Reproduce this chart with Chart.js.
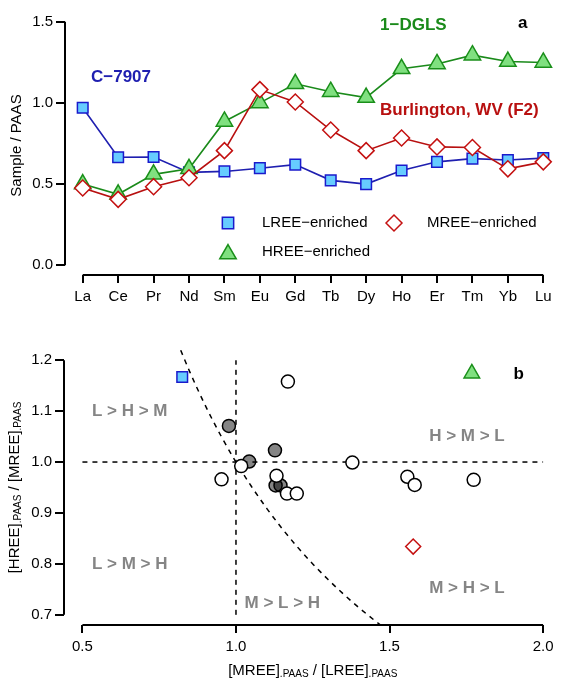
<!DOCTYPE html>
<html>
<head>
<meta charset="utf-8">
<script src="https://cdn.jsdelivr.net/npm/chart.js@4.4.0/dist/chart.umd.min.js"></script>
<style>
  body { margin: 0; background: #fff; }
  #wrap { position: relative; width: 572px; height: 680px; }
  canvas { position: absolute; left: 0; }
</style>
</head>
<body>
<div id="wrap">
  <canvas id="chartA" width="572" height="320" style="top:0"></canvas>
  <canvas id="chartB" width="572" height="350" style="top:330px"></canvas>
</div>
<script>
// panel a: REE patterns normalised to PAAS
const elements = ["La", "Ce", "Pr", "Nd", "Sm", "Eu", "Gd", "Tb", "Dy", "Ho", "Er", "Tm", "Yb", "Lu"];
const lreeEnriched = [0.97, 0.665, 0.667, 0.572, 0.578, 0.598, 0.62, 0.523, 0.5, 0.584, 0.637, 0.657, 0.648, 0.66];
const mreeEnriched = [0.476, 0.406, 0.484, 0.539, 0.706, 1.082, 1.006, 0.833, 0.706, 0.784, 0.729, 0.725, 0.594, 0.637];
const hreeEnriched = [0.5, 0.437, 0.56, 0.594, 0.886, 1.0, 1.118, 1.069, 1.033, 1.21, 1.24, 1.294, 1.255, 1.249];
const yTicksA = [0, 0.5, 1.0, 1.5];

// panel b: MREE/LREE vs HREE/MREE
const openX = [0.953, 1.017, 1.169, 1.132, 1.166, 1.198, 1.379, 1.558, 1.582, 1.774];
const openY = [0.966, 0.992, 1.158, 0.973, 0.938, 0.938, 0.999, 0.971, 0.955, 0.965];
const greyX = [0.977, 1.043, 1.127, 1.129, 1.145];
const greyY = [1.071, 1.001, 1.023, 0.954, 0.954];
const lreeX = [0.825], lreeY = [1.167];
const mreeX = [1.577], mreeY = [0.834];
const hreeX = [1.768], hreeY = [1.174];
const xTicksB = [0.5, 1.0, 1.5, 2.0];
const yTicksB = [0.7, 0.8, 0.9, 1.0, 1.1, 1.2];
// H = L boundary: HREE/MREE = 1 / (MREE/LREE)
const boundaryX = [0.82, 0.85, 0.9, 0.95, 1.0, 1.05, 1.1, 1.15, 1.2, 1.25, 1.3, 1.35, 1.4, 1.45, 1.47];

const font = "'Liberation Sans', Arial, sans-serif";
Chart.defaults.font.family = font;
Chart.defaults.color = '#000';

const blue = '#1f1fb0', green = '#1a8a1a', red = '#b81010', grey = '#858585';

function pts(xs, ys) { return xs.map((x, i) => ({ x: x, y: ys[i] })); }

function drawRich(ctx, parts, cx, cy, rotate) {
  ctx.save();
  ctx.translate(cx, cy);
  if (rotate) ctx.rotate(-Math.PI / 2);
  ctx.textBaseline = 'alphabetic';
  ctx.textAlign = 'left';
  ctx.fillStyle = '#000';
  let total = 0;
  parts.forEach(p => { ctx.font = p[1] + 'px ' + font; p.w = ctx.measureText(p[0]).width; total += p.w; });
  let x = -total / 2;
  parts.forEach(p => { ctx.font = p[1] + 'px ' + font; ctx.fillText(p[0], x, p[2] || 0); x += p.w; });
  ctx.restore();
}

function label(ctx, text, x, y, color, size, bold, align) {
  ctx.save();
  ctx.font = (bold ? 'bold ' : '') + size + 'px ' + font;
  ctx.fillStyle = color;
  ctx.textAlign = align || 'left';
  ctx.textBaseline = 'middle';
  ctx.fillText(text, x, y);
  ctx.restore();
}

function marker(ctx, style, x, y, r, fill, stroke) {
  ctx.save();
  ctx.fillStyle = fill; ctx.strokeStyle = stroke; ctx.lineWidth = 1.5;
  ctx.beginPath();
  if (style === 'rect') {
    const s = r * Math.SQRT1_2;
    ctx.rect(x - s, y - s, 2 * s, 2 * s);
  } else if (style === 'rectRot') {
    ctx.moveTo(x - r, y); ctx.lineTo(x, y - r); ctx.lineTo(x + r, y); ctx.lineTo(x, y + r); ctx.closePath();
  } else {
    const a = Math.PI * 2 / 3;
    ctx.moveTo(x, y - r);
    ctx.lineTo(x + Math.sin(a) * r, y - Math.cos(a) * r);
    ctx.lineTo(x - Math.sin(a) * r, y - Math.cos(a) * r);
    ctx.closePath();
  }
  ctx.fill(); ctx.stroke();
  ctx.restore();
}

// axis lines that only span the first to the last tick, like R
const detachedAxes = {
  id: 'detachedAxes',
  afterDraw(chart) {
    const { ctx, chartArea, scales: { x, y } } = chart;
    ctx.save();
    ctx.strokeStyle = '#000';
    ctx.lineWidth = 2;
    ctx.beginPath();
    ctx.moveTo(x.getPixelForTick(0), chartArea.bottom);
    ctx.lineTo(x.getPixelForTick(x.ticks.length - 1), chartArea.bottom);
    ctx.moveTo(chartArea.left, y.getPixelForTick(0));
    ctx.lineTo(chartArea.left, y.getPixelForTick(y.ticks.length - 1));
    ctx.stroke();
    ctx.restore();
  }
};

function tickGrid(len) {
  return { drawOnChartArea: false, drawTicks: true, tickLength: len, color: '#000', lineWidth: 2, offset: false };
}

const textA = {
  id: 'textA',
  afterDraw(chart) {
    const ctx = chart.ctx;
    const area = chart.chartArea;
    drawRich(ctx, [['Sample / PAAS', 15]], 21, (area.top + area.bottom) / 2 + 2, true);
    label(ctx, 'C\u22127907', 91, 77, blue, 17, true);
    label(ctx, '1\u2212DGLS', 380, 25, green, 17, true);
    label(ctx, 'a', 518, 23, '#000', 17, true);
    label(ctx, 'Burlington, WV (F2)', 380, 110, red, 17, true);
    // legend
    marker(ctx, 'rect', 228, 223, 8, '#66ccff', '#1a1acc');
    label(ctx, 'LREE\u2212enriched', 262, 223, '#000', 15, false);
    marker(ctx, 'rectRot', 394, 223, 8, '#ffffff', '#c41010');
    label(ctx, 'MREE\u2212enriched', 427, 223, '#000', 15, false);
    marker(ctx, 'triangle', 228, 254, 9.5, '#80e080', '#1a8f1a');
    label(ctx, 'HREE\u2212enriched', 262, 252, '#000', 15, false);
  }
};

new Chart(document.getElementById('chartA'), {
  type: 'line',
  data: {
    labels: elements,
    datasets: [
      { label: 'LREE-enriched', data: lreeEnriched, order: 3,
        borderColor: blue, borderWidth: 1.6, pointStyle: 'rect', pointRadius: 7.5,
        pointBackgroundColor: '#66ccff', pointBorderColor: '#1a1acc', pointBorderWidth: 1.5 },
      { label: 'HREE-enriched', data: hreeEnriched, order: 2,
        borderColor: green, borderWidth: 1.6, pointStyle: 'triangle', pointRadius: 9.5,
        pointBackgroundColor: '#80e080', pointBorderColor: '#1a8f1a', pointBorderWidth: 1.5 },
      { label: 'MREE-enriched', data: mreeEnriched, order: 1,
        borderColor: red, borderWidth: 1.6, pointStyle: 'rectRot', pointRadius: 8,
        pointBackgroundColor: '#ffffff', pointBorderColor: '#c41010', pointBorderWidth: 1.5 }
    ]
  },
  options: {
    responsive: false,
    animation: false,
    layout: { padding: { top: 0, right: 1, left: 0, bottom: 0 } },
    plugins: { legend: { display: false }, tooltip: { enabled: false } },
    scales: {
      x: {
        type: 'category', offset: true,
        grid: tickGrid(8), border: { display: false },
        ticks: { font: { size: 15 }, color: '#000', padding: 5, maxRotation: 0, autoSkip: false },
        afterFit: s => { s.height = 45; }
      },
      y: {
        min: -0.06, max: 1.56,
        afterBuildTicks: s => { s.ticks = yTicksA.map(v => ({ value: v })); },
        grid: tickGrid(9), border: { display: false },
        ticks: { font: { size: 15 }, color: '#000', padding: 3, callback: v => v.toFixed(1) },
        afterFit: s => { s.width = 65; }
      }
    }
  },
  plugins: [detachedAxes, textA]
});

const textB = {
  id: 'textB',
  beforeDatasetsDraw(chart) {
    const { ctx, scales: { x, y } } = chart;
    const regions = [
      ['L > H > M', 0.654, 1.1], ['L > M > H', 0.654, 0.8], ['M > L > H', 1.151, 0.723],
      ['H > M > L', 1.752, 1.05], ['M > H > L', 1.752, 0.752]
    ];
    regions.forEach(r => label(ctx, r[0], x.getPixelForValue(r[1]), y.getPixelForValue(r[2]), grey, 17, true, 'center'));
  },
  afterDraw(chart) {
    const { ctx, chartArea: area, scales: { x, y } } = chart;
    label(ctx, 'b', x.getPixelForValue(1.921), y.getPixelForValue(1.173), '#000', 17, true, 'center');
    drawRich(ctx, [['[MREE]', 15], ['.PAAS', 10, 2], [' / [LREE]', 15], ['.PAAS', 10, 2]],
      (area.left + area.right) / 2, 345, false);
    drawRich(ctx, [['[HREE]', 15], ['.PAAS', 10, 2], [' / [MREE]', 15], ['.PAAS', 10, 2]],
      19, (area.top + area.bottom) / 2, true);
  }
};

const dashed = { type: 'line', borderColor: '#000', borderWidth: 1.5, borderDash: [5, 5], pointRadius: 0, fill: false };

new Chart(document.getElementById('chartB'), {
  type: 'scatter',
  data: {
    datasets: [
      Object.assign({ data: boundaryX.map(v => ({ x: v, y: 1 / v })), cubicInterpolationMode: 'monotone', order: 9 }, dashed),
      Object.assign({ data: [{ x: xTicksB[0], y: 1 }, { x: xTicksB[3], y: 1 }], order: 9 }, dashed),
      Object.assign({ data: [{ x: 1, y: yTicksB[0] }, { x: 1, y: yTicksB[5] }], order: 9 }, dashed),
      { data: pts(greyX, greyY), order: 5, clip: false, pointRadius: 6.5, pointBorderWidth: 1.5,
        pointBackgroundColor: 'rgba(0,0,0,0.48)', pointBorderColor: '#000' },
      { data: pts(openX, openY), order: 4, clip: false, pointRadius: 6.5, pointBorderWidth: 1.5,
        pointBackgroundColor: '#fff', pointBorderColor: '#000' },
      { data: pts(lreeX, lreeY), order: 3, clip: false, pointStyle: 'rect', pointRadius: 7.5, pointBorderWidth: 1.5,
        pointBackgroundColor: '#66ccff', pointBorderColor: '#1a1acc' },
      { data: pts(mreeX, mreeY), order: 2, clip: false, pointStyle: 'rectRot', pointRadius: 7.5, pointBorderWidth: 1.5,
        pointBackgroundColor: '#fff', pointBorderColor: '#c41010' },
      { data: pts(hreeX, hreeY), order: 1, clip: false, pointStyle: 'triangle', pointRadius: 9, pointBorderWidth: 1.5,
        pointBackgroundColor: '#80e080', pointBorderColor: '#1a8f1a' }
    ]
  },
  options: {
    responsive: false,
    animation: false,
    layout: { padding: { top: 20, right: 1, left: 0, bottom: 0 } },
    plugins: { legend: { display: false }, tooltip: { enabled: false } },
    scales: {
      x: {
        type: 'linear', min: 0.44, max: 2.06,
        afterBuildTicks: s => { s.ticks = xTicksB.map(v => ({ value: v })); },
        grid: tickGrid(8), border: { display: false },
        ticks: { font: { size: 15 }, color: '#000', padding: 5, callback: v => v.toFixed(1) },
        afterFit: s => { s.height = 55; }
      },
      y: {
        min: 0.68, max: 1.22,
        afterBuildTicks: s => { s.ticks = yTicksB.map(v => ({ value: v })); },
        grid: tickGrid(9), border: { display: false },
        ticks: { font: { size: 15 }, color: '#000', padding: 3, callback: v => v.toFixed(1) },
        afterFit: s => { s.width = 64; }
      }
    }
  },
  plugins: [detachedAxes, textB]
});
</script>
</body>
</html>
